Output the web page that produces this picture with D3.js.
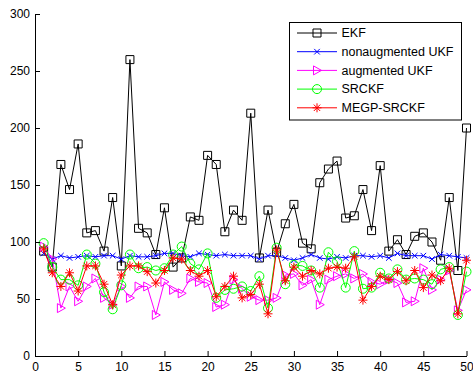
<!DOCTYPE html>
<html>
<head>
<meta charset="utf-8">
<script src="https://cdn.jsdelivr.net/npm/d3@7"></script>
<style>
  body { margin: 0; background: #fff; }
  svg { display: block; font-family: "Liberation Sans", Arial, sans-serif; }
</style>
</head>
<body>
<div id="chart"></div>
<script>
// step index on the x axis
const steps = d3.range(1, 51);

const ekf = [92, 78, 168, 146, 186, 108, 110, 92, 139, 79, 260, 112, 108, 89, 130, 78, 86, 122, 119, 176,
  168, 109, 128, 119, 213, 86, 128, 91, 116, 133, 99, 94, 152, 164, 171, 121, 123, 146, 110, 167,
  92, 102, 89, 105, 108, 100, 84, 139, 75, 200];
const nonAugUkf = [90, 85, 88, 86, 87, 88, 87, 88, 88, 85, 88, 87, 87, 88, 90, 90, 88, 87, 90, 89,
  88, 89, 88, 88, 88, 85, 88, 88, 86, 84, 86, 89, 86, 85, 87, 86, 88, 88, 87, 88,
  86, 90, 88, 88, 88, 85, 89, 88, 87, 86];
const augUkf = [96, 85, 42, 61, 48, 61, 68, 51, 45, 61, 51, 61, 61, 36, 65, 58, 55, 68, 65, 64,
  43, 45, 67, 59, 52, 49, 49, 51, 71, 72, 62, 67, 45, 67, 70, 72, 68, 72, 65, 63,
  67, 64, 47, 48, 77, 58, 67, 75, 40, 58];
const srckf = [99, 78, 67, 67, 62, 89, 81, 56, 41, 62, 89, 77, 78, 75, 77, 89, 96, 81, 76, 90,
  51, 58, 59, 61, 57, 70, 42, 95, 63, 80, 79, 75, 60, 91, 83, 60, 92, 59, 60, 73,
  68, 76, 67, 68, 67, 63, 76, 78, 36, 74];
const megpSrckf = [94, 73, 61, 73, 57, 79, 79, 63, 45, 71, 79, 79, 74, 64, 75, 86, 85, 75, 70, 75,
  52, 61, 70, 51, 54, 63, 37, 93, 66, 78, 70, 75, 72, 77, 78, 77, 87, 49, 61, 70,
  67, 74, 66, 75, 60, 71, 66, 77, 37, 84];

const names = ["EKF", "nonaugmented UKF", "augmented UKF", "SRCKF", "MEGP-SRCKF"];
const colors = ["#000000", "#0000ff", "#ff00ff", "#00ff00", "#ff0000"];
const xTicks = [0, 5, 10, 15, 20, 25, 30, 35, 40, 45, 50];
const yTicks = [0, 50, 100, 150, 200, 250, 300];

// marker shapes, same order as the series
const markers = [
  "M-4,-4H4V4H-4Z",
  "M-2.8,-2.8L2.8,2.8M-2.8,2.8L2.8,-2.8",
  "M-3.5,-4.5L4.5,0L-3.5,4.5Z",
  d3.symbol().type(d3.symbolCircle).size(64)(),
  "M-4.5,0H4.5M0,-4.5V4.5M-3.2,-3.2L3.2,3.2M-3.2,3.2L3.2,-3.2"
];

const W = 473, H = 375;
const padL = 35, padR = 466.5, padT = 14, padB = 356;

const svg = d3.select("#chart").append("svg")
  .attr("width", W).attr("height", H);

const x = d3.scaleLinear().domain([0, 50]).range([padL, padR]);
const y = d3.scaleLinear().domain([0, 300]).range([padB, padT]);

const series = [ekf, nonAugUkf, augUkf, srckf, megpSrckf];

const line = d3.line().x((d, i) => x(steps[i])).y(d => y(d));

series.forEach((vals, k) => {
  const g = svg.append("g");
  g.append("path")
    .attr("d", line(vals))
    .attr("fill", "none")
    .attr("stroke", colors[k])
    .attr("stroke-width", 1);
  g.selectAll("path.m").data(vals).enter()
    .append("path")
    .attr("class", "m")
    .attr("d", markers[k])
    .attr("transform", (d, i) => `translate(${x(steps[i])},${y(d)})`)
    .attr("fill", "none")
    .attr("stroke", colors[k])
    .attr("stroke-width", 1);
});

// axes with ticks pointing inward
const xAxis = svg.append("g")
  .attr("transform", `translate(0,${padB})`)
  .call(d3.axisBottom(x).tickValues(xTicks).tickSizeInner(-5).tickSizeOuter(0).tickPadding(6));
const yAxis = svg.append("g")
  .attr("transform", `translate(${padL},0)`)
  .call(d3.axisLeft(y).tickValues(yTicks).tickSizeInner(-5).tickSizeOuter(0).tickPadding(5));

[xAxis, yAxis].forEach(a => {
  a.selectAll("text").attr("font-size", "12px").attr("fill", "#000")
    .attr("font-family", "'Liberation Sans', Arial, sans-serif");
  a.selectAll("line, path").attr("stroke", "#000");
});

// legend
const lg = svg.append("g");
lg.append("rect")
  .attr("x", 289.5).attr("y", 22.5).attr("width", 172).attr("height", 97.5)
  .attr("fill", "#fff").attr("stroke", "#000").attr("stroke-width", 1);

names.forEach((n, k) => {
  const ly = 33 + k * 18.7;
  lg.append("line")
    .attr("x1", 297).attr("x2", 337).attr("y1", ly).attr("y2", ly)
    .attr("stroke", colors[k]);
  lg.append("path")
    .attr("d", markers[k])
    .attr("transform", `translate(317,${ly})`)
    .attr("fill", "none").attr("stroke", colors[k]);
  lg.append("text")
    .attr("x", 341.5).attr("y", ly)
    .attr("dy", "0.35em")
    .attr("font-size", "12.5px")
    .text(n);
});
</script>
</body>
</html>
